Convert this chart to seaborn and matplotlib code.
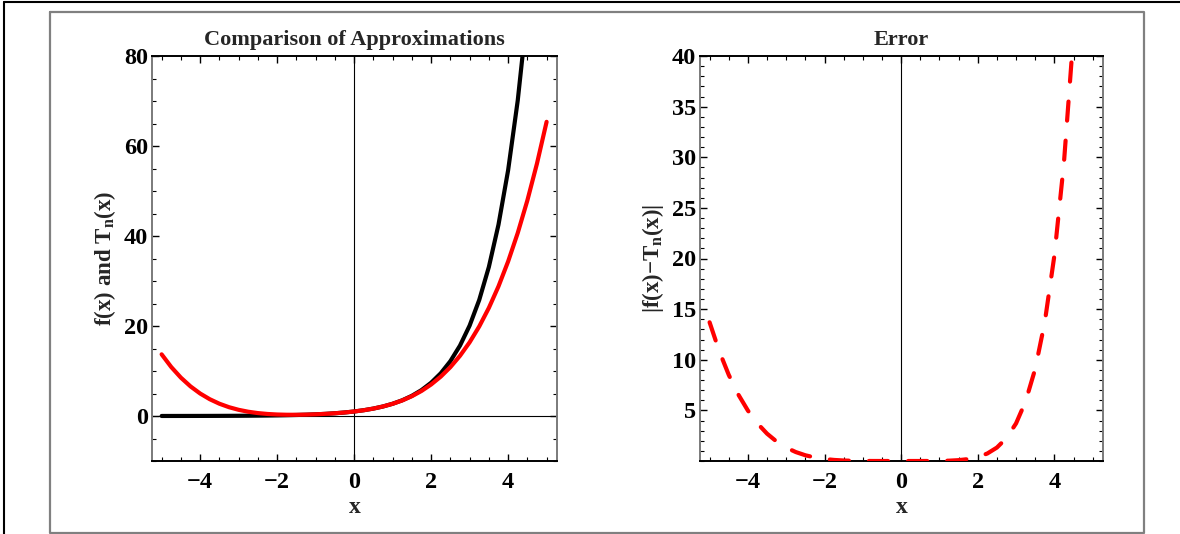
import numpy as np
import pandas as pd
import matplotlib
matplotlib.use("Agg")
import matplotlib.pyplot as plt
from matplotlib.lines import Line2D
from matplotlib.ticker import MultipleLocator
import seaborn as sns

# ---- data ----
x_vals = [-5.0, -4.75, -4.5, -4.25, -4.0, -3.75, -3.5, -3.25, -3.0, -2.75, -2.5,
          -2.25, -2.0, -1.75, -1.5, -1.25, -1.0, -0.75, -0.5, -0.25, 0.0,
          0.25, 0.5, 0.75, 1.0, 1.25, 1.5, 1.75, 2.0, 2.25, 2.5,
          2.75, 3.0, 3.25, 3.5, 3.75, 4.0, 4.25, 4.5, 4.75, 5.0]

f_vals = [0.0067, 0.0087, 0.0111, 0.0143, 0.0183, 0.0235, 0.0302, 0.0388, 0.0498, 0.0639, 0.0821,
          0.1054, 0.1353, 0.1738, 0.2231, 0.2865, 0.3679, 0.4724, 0.6065, 0.7788, 1.0,
          1.284, 1.6487, 2.117, 2.7183, 3.4903, 4.4817, 5.7546, 7.3891, 9.4877, 12.1825,
          15.6426, 20.0855, 25.7903, 33.1155, 42.5211, 54.5982, 70.1054, 90.0171, 115.5843, 148.4132]

tn_vals = [13.7083, 10.8804, 8.5234, 6.5809, 5.0, 3.7319, 2.7318, 1.9585, 1.375, 0.9481, 0.6484,
           0.4507, 0.3333, 0.2788, 0.2734, 0.3075, 0.375, 0.4741, 0.6068, 0.7788, 1.0,
           1.284, 1.6484, 2.1147, 2.7083, 3.4585, 4.3984, 5.5653, 7.0, 8.7476, 10.8568,
           13.3804, 16.375, 19.9012, 24.0234, 28.8101, 34.3333, 40.6694, 47.8984, 56.1043, 65.375]

err_vals = [13.7016, 10.8717, 8.5123, 6.5666, 4.9817, 3.7084, 2.7016, 1.9197, 1.3252, 0.8842, 0.5663,
            0.3453, 0.198, 0.105, 0.0503, 0.021, 0.0071, 0.0017, 0.0003, 0.0, 0.0,
            0.0, 0.0003, 0.0023, 0.01, 0.0318, 0.0833, 0.1893, 0.3891, 0.7401, 1.3257,
            2.2622, 3.7105, 5.8891, 9.0921, 13.711, 20.2649, 29.436, 42.1187, 59.48, 83.04]

left_title = "Comparison of Approximations"
right_title = "Error"
left_ylabel = r"f(x) and T$_\mathrm{n}$(x)"
right_ylabel = "|f(x)\u2212T$_\\mathrm{n}$(x)|"
xlabel = "x"

df = pd.DataFrame({"x": x_vals, "f": f_vals, "tn": tn_vals, "err": err_vals})

sns.set_theme(style="white")
plt.rcParams["font.family"] = ["Liberation Serif", "DejaVu Serif"]
plt.rcParams["font.weight"] = "bold"
plt.rcParams["mathtext.fontset"] = "custom"
plt.rcParams["mathtext.rm"] = "Liberation Serif:bold"
plt.rcParams["mathtext.it"] = "Liberation Serif:bold"
plt.rcParams["mathtext.bf"] = "Liberation Serif:bold"

fig = plt.figure(figsize=(11.8, 5.34), dpi=100)
W, H = 1180, 534

def fx(px):
    return px / W

def fy(py):
    return 1 - py / H

ax1 = fig.add_axes([fx(152), fy(461), fx(557) - fx(152), fy(56) - fy(461)])
ax2 = fig.add_axes([fx(700), fy(461), fx(1103) - fx(700), fy(56) - fy(461)])

LW = 3.0
sns.lineplot(data=df, x="x", y="f", ax=ax1, color="black", lw=LW, sort=False,
             estimator=None, solid_capstyle="round", zorder=3)
sns.lineplot(data=df, x="x", y="tn", ax=ax1, color="#ff0000", lw=LW, sort=False,
             estimator=None, solid_capstyle="round", zorder=4)
sns.lineplot(data=df, x="x", y="err", ax=ax2, color="#ff0000", lw=LW, sort=False,
             estimator=None, zorder=4)
ln = ax2.lines[-1]
ln.set_linestyle((0, (4.6, 4.8)))
ln.set_dash_capstyle("round")

ax1.axhline(0, color="black", lw=0.8, zorder=2)
ax1.axvline(0, color="black", lw=0.8, zorder=2)
ax2.axvline(0, color="black", lw=0.8, zorder=2)

ax1.set_xlim(-5.25, 5.27)
ax1.set_ylim(-10, 80)
ax2.set_xlim(-5.25, 5.27)
ax2.set_ylim(0, 40)

ax1.xaxis.set_major_locator(MultipleLocator(2))
ax1.xaxis.set_minor_locator(MultipleLocator(0.5))
ax1.yaxis.set_major_locator(MultipleLocator(20))
ax1.yaxis.set_minor_locator(MultipleLocator(5))
ax2.xaxis.set_major_locator(MultipleLocator(2))
ax2.xaxis.set_minor_locator(MultipleLocator(0.5))
ax2.set_yticks([5, 10, 15, 20, 25, 30, 35, 40])
ax2.yaxis.set_minor_locator(MultipleLocator(1))

def fmt(v, pos):
    v = int(round(v))
    return ("\u2212%d" % -v) if v < 0 else "%d" % v

for ax, title, ylab in [(ax1, left_title, left_ylabel), (ax2, right_title, right_ylabel)]:
    ax.xaxis.set_major_formatter(plt.FuncFormatter(fmt))
    ax.tick_params(which="both", direction="in", top=True, right=True,
                   bottom=True, left=True, colors="black")
    ax.tick_params(which="major", length=5, width=1.0, labelsize=17.5)
    ax.tick_params(axis="x", which="major", pad=8)
    ax.tick_params(axis="y", which="major", pad=3)
    ax.tick_params(which="minor", length=3, width=0.8)
    for lab in ax.get_xticklabels() + ax.get_yticklabels():
        lab.set_fontweight("bold")
    ax.set_title(title, fontsize=16, fontweight="bold", pad=8)
    ax.set_xlabel(xlabel, fontsize=17, fontweight="bold", labelpad=3)
    ax.set_ylabel(ylab, fontsize=16.5, fontweight="bold", labelpad=4)
    for side in ["left", "right"]:
        ax.spines[side].set_color("#7a7a7a")
        ax.spines[side].set_linewidth(1.4)
    for side in ["top", "bottom"]:
        ax.spines[side].set_color("black")
        ax.spines[side].set_linewidth(1.4)
    ax.grid(False)

# outer decorations
fig.add_artist(Line2D([fx(4), fx(1180)], [fy(2), fy(2)], color="black", lw=1.5))
fig.add_artist(Line2D([fx(4), fx(4)], [fy(2), fy(534)], color="black", lw=1.5))
fig.add_artist(Line2D([fx(50), fx(1144), fx(1144), fx(50), fx(50)],
                      [fy(12), fy(12), fy(533), fy(533), fy(12)],
                      color="#808080", lw=1.6))

fig.savefig("out.png", dpi=100)
